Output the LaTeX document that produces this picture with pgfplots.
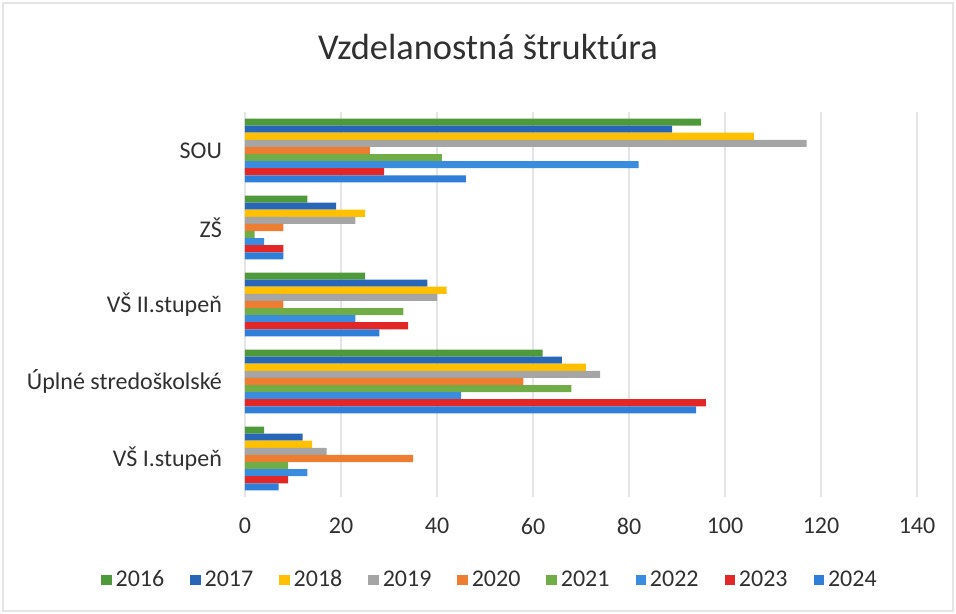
\documentclass[border=0pt]{standalone}
\usepackage{fontspec}
\setmainfont{Carlito}
\usepackage{pgfplots}
\pgfplotsset{compat=1.18}
\definecolor{c16}{HTML}{4E9A3A}
\definecolor{c17}{HTML}{2866B8}
\definecolor{c18}{HTML}{FFC000}
\definecolor{c19}{HTML}{A5A5A5}
\definecolor{c20}{HTML}{ED7D31}
\definecolor{c21}{HTML}{70AD47}
\definecolor{c22}{HTML}{3A8DDE}
\definecolor{c23}{HTML}{E32626}
\definecolor{c24}{HTML}{2F7ED8}
\definecolor{txt}{HTML}{303030}
\begin{document}
\begin{tikzpicture}
\useasboundingbox (-122.5pt,-58.5pt) rectangle (355.5pt,248.5pt);
\draw[black!10, line width=0.8pt] (-121pt,-57pt) rectangle (354pt,247pt);
\begin{axis}[
  at={(0,0)}, anchor=south west,
  scale only axis, width=336pt, height=192.5pt,
  xbar, bar width=3.55pt,
  xmin=0, xmax=140, xtick={0,20,...,140},
  ymin=-0.5, ymax=4.5,
  ytick={0,1,2,3,4},
  yticklabels={VŠ I.stupeň, Úplné stredoškolské, VŠ II.stupeň, ZŠ, SOU},
  axis line style={draw=none},
  major tick length=0pt,
  xmajorgrids, grid style={black!10, line width=0.6pt},
  /pgf/number format/assume math mode=true,
  tick label style={font=\fontsize{12}{14}\selectfont, text=txt},
  xticklabel style={yshift=-7pt},
  yticklabel style={xshift=-8pt},
  title={Vzdelanostná štruktúra},
  title style={at={(axis description cs:0.3616,1)}, anchor=base, yshift=20pt, font=\fontsize{18.2}{21}\selectfont, text=txt},
  legend columns=9,
  legend style={at={(axis description cs:0.366,-0.215)}, anchor=center, draw=none, fill=none,
    font=\fontsize{12}{14}\selectfont, text=txt,
    /tikz/every even column/.append style={column sep=11pt}},
  legend image code/.code={\fill[#1] (0pt,-2.6pt) rectangle (5.2pt,2.6pt);},
]
\addplot[fill=c16, draw=none, bar shift=14.2pt] coordinates {(4,0) (62,1) (25,2) (13,3) (95,4)};
\addplot[fill=c17, draw=none, bar shift=10.65pt] coordinates {(12,0) (66,1) (38,2) (19,3) (89,4)};
\addplot[fill=c18, draw=none, bar shift=7.1pt] coordinates {(14,0) (71,1) (42,2) (25,3) (106,4)};
\addplot[fill=c19, draw=none, bar shift=3.55pt] coordinates {(17,0) (74,1) (40,2) (23,3) (117,4)};
\addplot[fill=c20, draw=none, bar shift=0pt] coordinates {(35,0) (58,1) (8,2) (8,3) (26,4)};
\addplot[fill=c21, draw=none, bar shift=-3.55pt] coordinates {(9,0) (68,1) (33,2) (2,3) (41,4)};
\addplot[fill=c22, draw=none, bar shift=-7.1pt] coordinates {(13,0) (45,1) (23,2) (4,3) (82,4)};
\addplot[fill=c23, draw=none, bar shift=-10.65pt] coordinates {(9,0) (96,1) (34,2) (8,3) (29,4)};
\addplot[fill=c24, draw=none, bar shift=-14.2pt] coordinates {(7,0) (94,1) (28,2) (8,3) (46,4)};
\legend{2016,2017,2018,2019,2020,2021,2022,2023,2024}
\end{axis}
\end{tikzpicture}
\end{document}
